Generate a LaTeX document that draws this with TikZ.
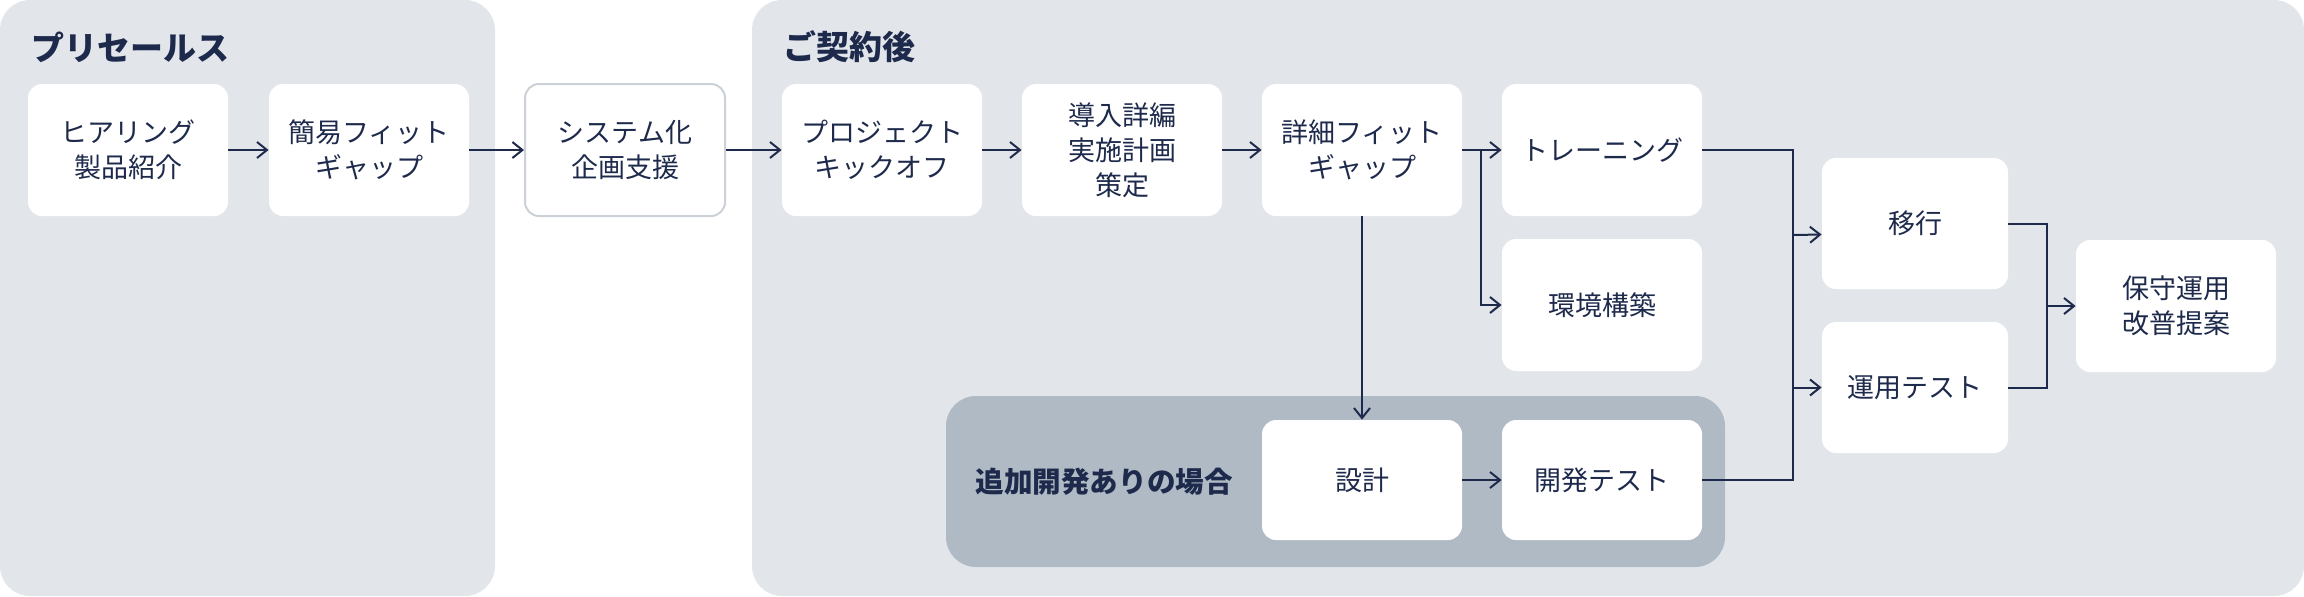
\documentclass[tikz,border=0pt]{standalone}
\usepackage{fontspec}
\setmainfont{Noto Sans CJK JP}
\usetikzlibrary{arrows.meta}
\definecolor{navy}{HTML}{1E2A4C}
\definecolor{panelgray}{HTML}{E2E6EA}
\definecolor{groupgray}{HTML}{AFBAC4}
\definecolor{framegray}{HTML}{CBD1D7}
\tikzset{
  box/.style={fill=white, rounded corners=7pt, minimum width=100pt, minimum height=66pt,
    inner sep=0pt, align=center, text=navy, font=\fontsize{13.5pt}{17.5pt}\selectfont},
  conn/.style={draw=navy, line width=1pt},
  arr/.style={conn, -{Straight Barb[length=5pt,width=8pt]}},
  heading/.style={anchor=west, inner sep=0pt, text=navy, font=\bfseries\fontsize{16.5pt}{20pt}\selectfont}
}
\begin{document}
\begin{tikzpicture}[x=0.5pt, y=-0.5pt]
    \useasboundingbox (0,0) rectangle (2304,596);

    \fill[panelgray, rounded corners=15pt] (0,0) rectangle (495,596);
    \fill[panelgray, rounded corners=15pt] (752,0) rectangle (2304,596);
    \fill[groupgray, rounded corners=15pt] (946,396) rectangle (1725,567);

    \node[heading] (presales) at (31,47) {プリセールス};
    \node[heading] (contract) at (783,47) {ご契約後};
    \node[heading, font=\bfseries\fontsize{14.3pt}{18pt}\selectfont] (extra) at (975,482) {追加開発ありの場合};

    \node[box] (hear) at (128,150) {ヒアリング\\製品紹介};
    \node[box] (simple) at (369,150) {簡易フィット\\ギャップ};
    \node[box, draw=framegray, line width=1pt] (sys) at (625,150) {システム化\\企画支援};
    \node[box] (kick) at (882,150) {プロジェクト\\キックオフ};
    \node[box] (plan) at (1122,150) {導入詳編\\実施計画\\策定};
    \node[box] (detfg) at (1362,150) {詳細フィット\\ギャップ};
    \node[box] (train) at (1602,150) {トレーニング};
    \node[box] (env) at (1602,305) {環境構築};
    \node[box, minimum height=60pt] (design) at (1362,480) {設計};
    \node[box, minimum height=60pt] (devtest) at (1602,480) {開発テスト};
    \node[box, minimum width=93pt, minimum height=65.5pt] (migr) at (1915,223.5) {移行};
    \node[box, minimum width=93pt, minimum height=65.5pt] (optest) at (1915,387.5) {運用テスト};
    \node[box] (maint) at (2176,306) {保守運用\\改普提案};

    \coordinate (split) at (1481,150);
    \coordinate (merge) at (1793,150);
    \coordinate (join) at (2047,306);

    \draw[arr] (hear) -- (simple);
    \draw[arr] (simple) -- (sys);
    \draw[arr] (sys) -- (kick);
    \draw[arr] (kick) -- (plan);
    \draw[arr] (plan) -- (detfg);
    \draw[arr] (detfg) -- (train);
    \draw[arr] (split) |- (env.west);
    \draw[arr] (detfg) -- (design);
    \draw[arr] (design) -- (devtest);

    \draw[conn] (train.east) -| (merge |- devtest.east) -- (devtest.east);
    \draw[arr] (merge |- 0,235) -- ([yshift=-5.5pt]migr.west);
    \draw[arr] (merge |- optest.west) -- (optest.west);
    \draw[conn] (migr.east) -| (join |- optest.east) -- (optest.east);
    \draw[arr] (join) -- (maint.west);
\end{tikzpicture}
\end{document}
